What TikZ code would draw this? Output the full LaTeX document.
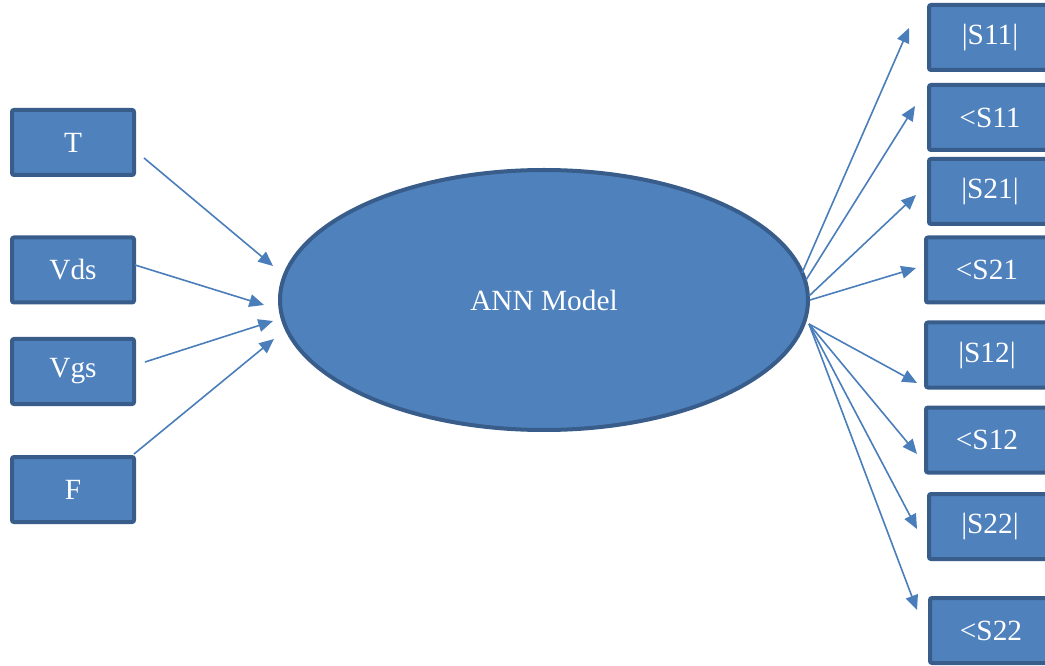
\documentclass[tikz,border=0pt]{standalone}
\usepackage{fontspec}
\setmainfont{Liberation Serif}
\usetikzlibrary{shapes.geometric,arrows.meta}
\definecolor{boxfill}{HTML}{4F81BD}
\definecolor{boxline}{HTML}{385D8A}
\definecolor{wire}{HTML}{4A7EBB}
\tikzset{
  varbox/.style={rectangle, rounded corners=1.5pt, fill=boxfill, draw=boxline,
    line width=3pt, minimum width=91.5pt, minimum height=48.75pt,
    inner sep=0pt, outer sep=0pt, text=white, font=\fontsize{22}{26}\selectfont},
  model/.style={ellipse, fill=boxfill, draw=boxline, line width=3pt,
    minimum width=396pt, minimum height=195pt, inner sep=0pt,
    text=white, font=\fontsize{22}{26}\selectfont},
  link/.style={draw=wire, line width=1.2pt, -{Triangle[length=11pt,width=9.5pt]}}
}
\begin{document}
\begin{tikzpicture}[x=0.75pt,y=-0.75pt]
\clip (0,0) rectangle (1045,666);
\fill[white] (0,0) rectangle (1045,666);

% inputs
\node[varbox] (T)   at (73,142.5) {T};
\node[varbox] (Vds) at (73,270)   {Vds};
\node[varbox] (Vgs) at (73,371.5) {Vgs};
\node[varbox] (F)   at (73,489.5) {F};

% network
\node[model] (ann) at (544,300) {ANN Model};

% outputs
\node[varbox] (o1) at (990,37.5)  {|S11|};
\node[varbox] (o2) at (990,117.5) {<S11};
\node[varbox] (o3) at (990,191.5) {|S21|};
\node[varbox] (o4) at (987,270)   {<S21};
\node[varbox] (o5) at (987,355)   {|S12|};
\node[varbox] (o6) at (987,440)   {<S12};
\node[varbox] (o7) at (990,526.5) {|S22|};
\node[varbox] (o8) at (991,630.5) {<S22};

% arrow end points
\coordinate (inT)   at (144,158);
\coordinate (inVds) at (135,265);
\coordinate (inVgs) at (145,362);
\coordinate (inF)   at (134,454);
\coordinate (tT)    at (273,266);
\coordinate (tVds)  at (264,305);
\coordinate (tVgs)  at (273,321);
\coordinate (tF)    at (274,339);

\coordinate (s1) at (802,273);
\coordinate (s2) at (806,280);
\coordinate (s3) at (809,296);
\coordinate (s4) at (810,300);
\coordinate (s5) at (809,324);

\coordinate (e1) at (909,28);
\coordinate (e2) at (915,106);
\coordinate (e3) at (916,195);
\coordinate (e4) at (916,268);
\coordinate (e5) at (917,383);
\coordinate (e6) at (917,454);
\coordinate (e7) at (917,529);
\coordinate (e8) at (917,610);

\draw[link] (inT) -- (tT);
\draw[link] (inVds) -- (tVds);
\draw[link] (inVgs) -- (tVgs);
\draw[link] (inF) -- (tF);

\draw[link] (s1) -- (e1);
\draw[link] (s2) -- (e2);
\draw[link] (s3) -- (e3);
\draw[link] (s4) -- (e4);
\draw[link] (s5) -- (e5);
\draw[link] (s5) -- (e6);
\draw[link] (s5) -- (e7);
\draw[link] (s5) -- (e8);
\end{tikzpicture}
\end{document}
